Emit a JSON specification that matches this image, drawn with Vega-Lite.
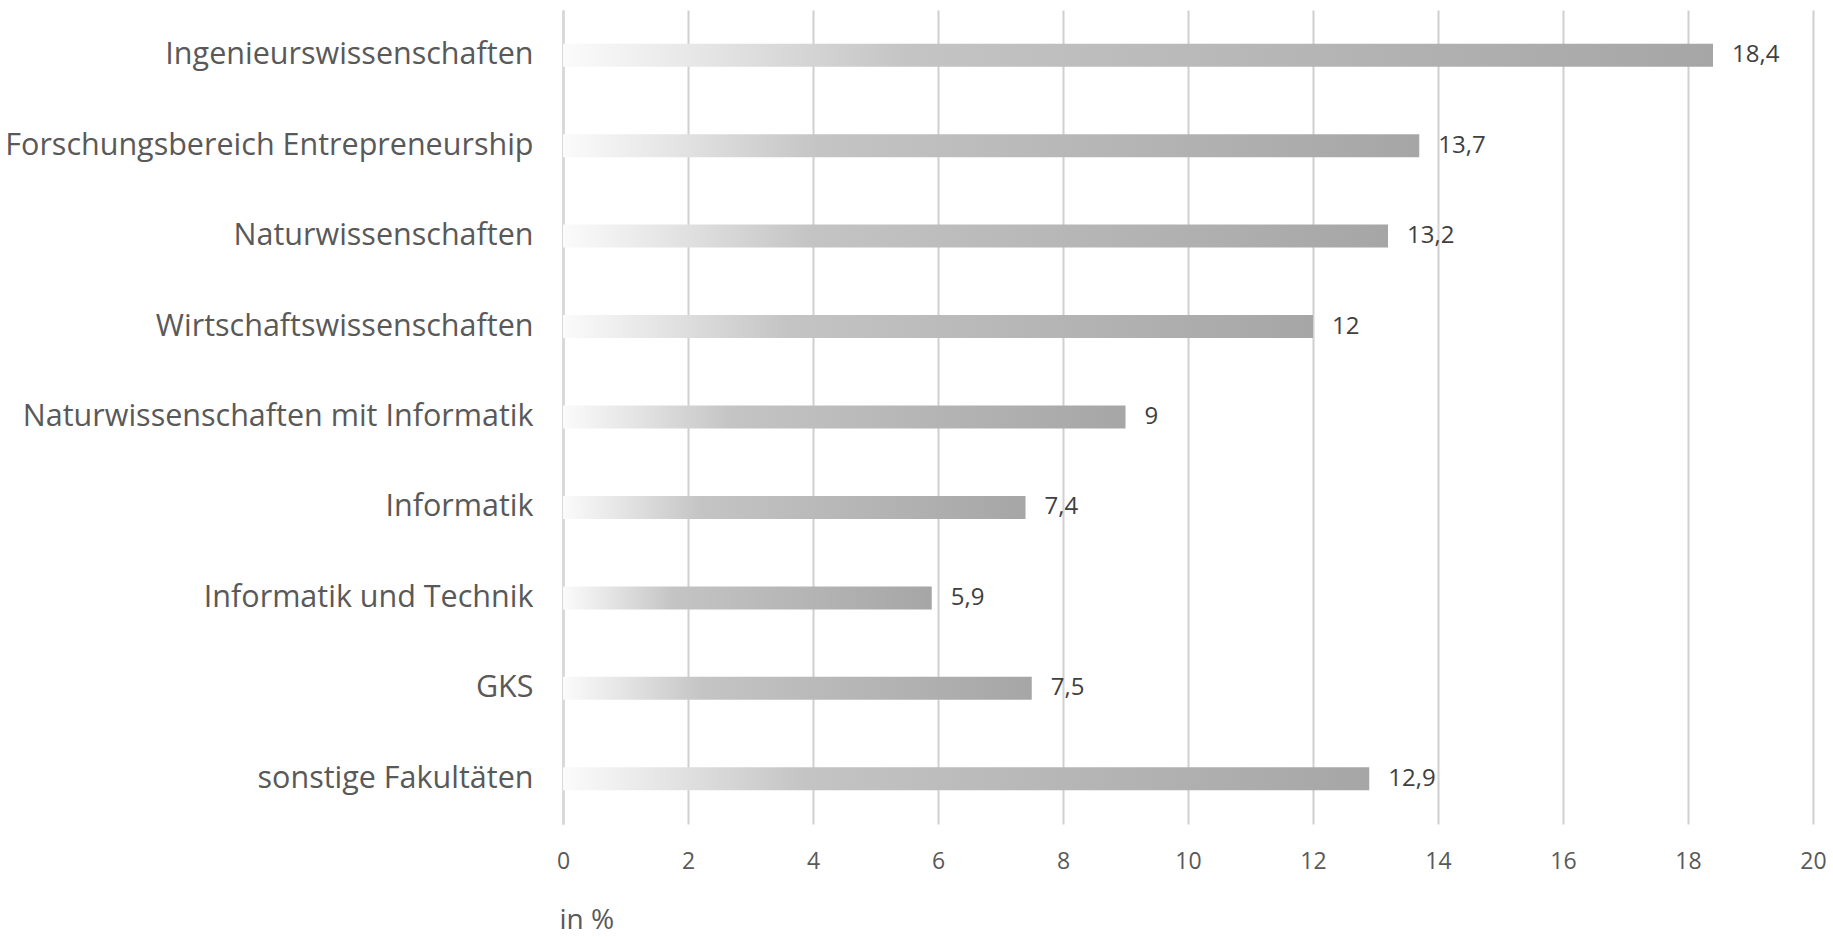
{
  "$schema": "https://vega.github.io/schema/vega-lite/v6.json",
  "autosize": {"type": "none"},
  "padding": {"left": 563, "top": 10, "right": 20, "bottom": 113},
  "width": 1250,
  "height": 814,
  "background": "white",
  "config": {
    "view": {"stroke": null},
    "font": "Open Sans",
    "locale": {"number": {"decimal": ",", "thousands": ".", "grouping": [3], "currency": ["", " €"]}}
  },
  "data": {
    "values": [
      {"bereich": "Ingenieurswissenschaften", "anteil": 18.4},
      {"bereich": "Forschungsbereich Entrepreneurship", "anteil": 13.7},
      {"bereich": "Naturwissenschaften", "anteil": 13.2},
      {"bereich": "Wirtschaftswissenschaften", "anteil": 12},
      {"bereich": "Naturwissenschaften mit Informatik", "anteil": 9},
      {"bereich": "Informatik", "anteil": 7.4},
      {"bereich": "Informatik und Technik", "anteil": 5.9},
      {"bereich": "GKS", "anteil": 7.5},
      {"bereich": "sonstige Fakultäten", "anteil": 12.9}
    ]
  },
  "encoding": {
    "y": {
      "field": "bereich",
      "type": "nominal",
      "sort": null,
      "scale": {"paddingInner": 0, "paddingOuter": 0},
      "axis": {
        "title": null,
        "ticks": false,
        "domain": true,
        "domainColor": "#d9d9d9",
        "domainWidth": 3,
        "labelFont": "Open Sans",
        "labelFontSize": 30.5,
        "labelColor": "#595959",
        "labelPadding": 30,
        "labelLimit": 700
      }
    }
  },
  "layer": [
    {
      "mark": {
        "type": "bar",
        "size": 23,
        "color": {
          "gradient": "linear",
          "x1": 0, "y1": 0, "x2": 1, "y2": 0,
          "stops": [
            {"offset": 0, "color": "#fbfbfb"},
            {"offset": 0.12, "color": "#e6e6e6"},
            {"offset": 0.3, "color": "#c4c4c4"},
            {"offset": 1, "color": "#a6a6a6"}
          ]
        }
      },
      "encoding": {
        "x": {
          "field": "anteil",
          "type": "quantitative",
          "scale": {"domain": [0, 20], "nice": false},
          "axis": {
            "values": [0, 2, 4, 6, 8, 10, 12, 14, 16, 18, 20],
            "format": "d",
            "domain": false,
            "ticks": false,
            "grid": true,
            "gridColor": "#d0d0d0",
            "gridWidth": 2,
            "labelFont": "Open Sans",
            "labelFontSize": 23,
            "labelColor": "#595959",
            "labelPadding": 26,
            "labelFlush": false,
            "title": "in %",
            "titleFont": "Open Sans",
            "titleFontSize": 28,
            "titleFontWeight": "normal",
            "titleColor": "#595959",
            "titleAnchor": "start",
            "titleAlign": "left",
            "titleBaseline": "middle",
            "titleX": -4,
            "titleY": 96
          }
        }
      }
    },
    {
      "mark": {
        "type": "text",
        "align": "left",
        "baseline": "middle",
        "dx": 19,
        "font": "Open Sans",
        "fontSize": 24,
        "color": "#404040"
      },
      "encoding": {
        "x": {"field": "anteil", "type": "quantitative"},
        "text": {"field": "anteil", "type": "quantitative", "format": ".3~g"}
      }
    }
  ]
}
